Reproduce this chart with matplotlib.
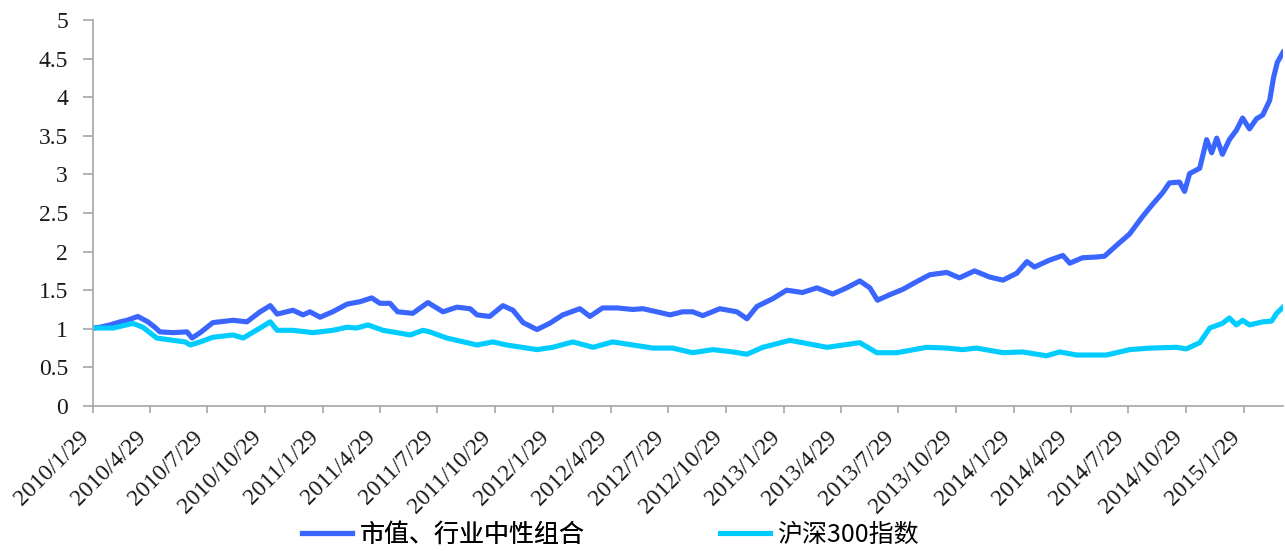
import matplotlib
matplotlib.use('Agg')
import matplotlib.pyplot as plt
import pandas as pd

# Net value curves
portDates = ['2010-01-29', '2010-02-09', '2010-02-25', '2010-03-13', '2010-03-24', '2010-04-10',
             '2010-04-26', '2010-05-07', '2010-05-15', '2010-06-05', '2010-06-27', '2010-07-05',
             '2010-07-18', '2010-08-07', '2010-09-08', '2010-09-30', '2010-10-21', '2010-11-06',
             '2010-11-17', '2010-12-12', '2010-12-28', '2011-01-08', '2011-01-24', '2011-02-13',
             '2011-03-08', '2011-03-28', '2011-04-16', '2011-04-29', '2011-05-15', '2011-05-27',
             '2011-06-20', '2011-07-14', '2011-08-07', '2011-08-29', '2011-09-19', '2011-09-30',
             '2011-10-20', '2011-11-10', '2011-11-26', '2011-12-12', '2012-01-03', '2012-01-23',
             '2012-02-13', '2012-03-11', '2012-03-27', '2012-04-16', '2012-05-09', '2012-06-03',
             '2012-06-19', '2012-07-11', '2012-08-01', '2012-08-21', '2012-09-06', '2012-09-22',
             '2012-10-19', '2012-11-15', '2012-12-01', '2012-12-17', '2013-01-11', '2013-02-02',
             '2013-02-27', '2013-03-22', '2013-04-16', '2013-05-08', '2013-05-29', '2013-06-14',
             '2013-06-26', '2013-07-15', '2013-08-05', '2013-08-27', '2013-09-17', '2013-10-14',
             '2013-11-03', '2013-11-27', '2013-12-21', '2014-01-11', '2014-02-02', '2014-02-18',
             '2014-03-02', '2014-03-26', '2014-04-16', '2014-04-27', '2014-05-17', '2014-06-09',
             '2014-06-21', '2014-07-10', '2014-07-31', '2014-08-20', '2014-09-05', '2014-09-21',
             '2014-10-02', '2014-10-18', '2014-10-26', '2014-11-03', '2014-11-19', '2014-11-30',
             '2014-12-08', '2014-12-16', '2014-12-25', '2015-01-05', '2015-01-16', '2015-01-26',
             '2015-02-06', '2015-02-17', '2015-02-27', '2015-03-10', '2015-03-16', '2015-03-22',
             '2015-03-31']
portValues = [1.01, 1.02, 1.05, 1.09, 1.11, 1.16,
              1.09, 1.02, 0.96, 0.95, 0.96, 0.88,
              0.95, 1.08, 1.11, 1.09, 1.22, 1.30,
              1.19, 1.24, 1.18, 1.22, 1.15, 1.22,
              1.32, 1.35, 1.40, 1.33, 1.33, 1.22,
              1.20, 1.34, 1.22, 1.28, 1.26, 1.18,
              1.16, 1.30, 1.24, 1.08, 0.99, 1.07,
              1.18, 1.26, 1.16, 1.27, 1.27, 1.25,
              1.26, 1.22, 1.18, 1.22, 1.22, 1.17,
              1.26, 1.22, 1.13, 1.29, 1.39, 1.50,
              1.47, 1.53, 1.45, 1.53, 1.62, 1.53,
              1.37, 1.44, 1.51, 1.61, 1.70, 1.73,
              1.66, 1.75, 1.67, 1.63, 1.72, 1.87,
              1.80, 1.89, 1.95, 1.85, 1.92, 1.93,
              1.94, 2.08, 2.23, 2.45, 2.61, 2.76,
              2.89, 2.90, 2.78, 3.01, 3.08, 3.45,
              3.28, 3.47, 3.26, 3.45, 3.57, 3.73,
              3.59, 3.72, 3.77, 3.96, 4.25, 4.45,
              4.58]

hsDates = ['2010-01-29', '2010-03-02', '2010-04-02', '2010-04-18', '2010-05-10', '2010-06-05',
           '2010-06-24', '2010-07-02', '2010-07-18', '2010-08-07', '2010-09-08', '2010-09-24',
           '2010-10-21', '2010-11-06', '2010-11-17', '2010-12-12', '2011-01-13', '2011-02-13',
           '2011-03-08', '2011-03-23', '2011-04-10', '2011-05-04', '2011-05-26', '2011-06-16',
           '2011-07-06', '2011-07-17', '2011-08-13', '2011-09-30', '2011-10-25', '2011-11-16',
           '2011-12-18', '2012-01-03', '2012-01-28', '2012-02-29', '2012-04-01', '2012-05-02',
           '2012-06-03', '2012-07-05', '2012-08-05', '2012-09-06', '2012-10-08', '2012-11-09',
           '2012-12-01', '2012-12-26', '2013-02-07', '2013-02-27', '2013-04-07', '2013-05-29',
           '2013-06-25', '2013-07-27', '2013-09-12', '2013-10-14', '2013-11-08', '2013-11-30',
           '2014-01-11', '2014-02-11', '2014-03-21', '2014-04-11', '2014-05-08', '2014-06-24',
           '2014-07-31', '2014-09-01', '2014-10-13', '2014-10-29', '2014-11-19', '2014-12-05',
           '2014-12-25', '2015-01-05', '2015-01-16', '2015-01-26', '2015-02-06', '2015-02-27',
           '2015-03-13', '2015-03-21', '2015-03-31']
hsValues = [1.01, 1.01, 1.07, 1.02, 0.88, 0.85,
            0.83, 0.79, 0.83, 0.89, 0.92, 0.88,
            1.01, 1.09, 0.98, 0.98, 0.95, 0.98,
            1.02, 1.01, 1.05, 0.98, 0.95, 0.92,
            0.98, 0.96, 0.88, 0.79, 0.83, 0.79,
            0.75, 0.73, 0.76, 0.83, 0.76, 0.83,
            0.79, 0.75, 0.75, 0.69, 0.73, 0.70,
            0.67, 0.76, 0.85, 0.82, 0.76, 0.82,
            0.69, 0.69, 0.76, 0.75, 0.73, 0.75,
            0.69, 0.70, 0.65, 0.70, 0.66, 0.66,
            0.73, 0.75, 0.76, 0.74, 0.82, 1.01,
            1.07, 1.14, 1.05, 1.11, 1.05, 1.09,
            1.10, 1.20, 1.28]

tickLabels = ['2010/1/29', '2010/4/29', '2010/7/29', '2010/10/29',
              '2011/1/29', '2011/4/29', '2011/7/29', '2011/10/29',
              '2012/1/29', '2012/4/29', '2012/7/29', '2012/10/29',
              '2013/1/29', '2013/4/29', '2013/7/29', '2013/10/29',
              '2014/1/29', '2014/4/29', '2014/7/29', '2014/10/29',
              '2015/1/29']
yTicks = [0, 0.5, 1, 1.5, 2, 2.5, 3, 3.5, 4, 4.5, 5]
seriesNames = ['市值、行业中性组合', '沪深300指数']

#=====================================================================
#     Plotting
#
textsize = 17
plt.rcParams['font.family'] = ['Liberation Serif', 'DejaVu Serif']
cjkFont = {'family': ['Noto Sans CJK SC', 'DejaVu Sans'], 'size': 18}

fig = plt.figure(figsize=(12.85, 5.51), dpi=100)
ax = fig.add_axes([0.0724, 0.2632, 0.926, 0.7005])

l1, = ax.plot(pd.to_datetime(portDates), portValues, color='#3A66FF', lw=3.7,
              solid_joinstyle='round')
l2, = ax.plot(pd.to_datetime(hsDates), hsValues, color='#00CCFF', lw=3.7,
              solid_joinstyle='round')

ax.set_ylim(0, 5)
ax.set_yticks(yTicks)
ax.set_yticklabels(['%g' % v for v in yTicks])
ax.set_xlim(pd.Timestamp('2010-01-29'), pd.Timestamp('2015-03-31'))
ax.set_xticks(pd.to_datetime(tickLabels, format='%Y/%m/%d'))
ax.set_xticklabels(tickLabels, rotation=45, ha='right')

for side in ['top', 'right']:
    ax.spines[side].set_visible(False)
for side in ['left', 'bottom']:
    ax.spines[side].set_color('#A6A6A6')
    ax.spines[side].set_linewidth(1.2)
ax.tick_params(axis='both', colors='#A6A6A6', width=1.2, direction='out',
               labelsize=textsize, labelcolor='#1A1A1A')
ax.tick_params(axis='y', length=7, pad=11)
ax.tick_params(axis='x', length=5, pad=10)

# two legend entries placed where the reference has them
leg1 = fig.legend([l1], [seriesNames[0]], loc='center left',
                  bbox_to_anchor=(302/1285., 1 - 535/551.), frameon=False,
                  borderpad=0, borderaxespad=0, handlelength=2.0, handletextpad=0.3,
                  prop=cjkFont)
fig.add_artist(leg1)
fig.legend([l2], [seriesNames[1]], loc='center left',
           bbox_to_anchor=(720/1285., 1 - 535/551.), frameon=False,
           borderpad=0, borderaxespad=0, handlelength=2.0, handletextpad=0.3,
           prop=cjkFont)

plt.savefig('out.png', dpi=100)
#=====================================================================
